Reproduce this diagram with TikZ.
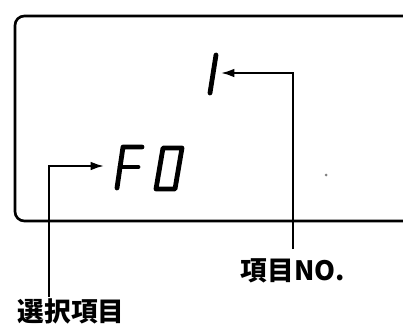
\documentclass[tikz,border=0pt]{standalone}
\usepackage{fontspec}
\newfontfamily\cjk{Noto Sans CJK JP}
\usetikzlibrary{arrows.meta,calc}

\begin{document}
\begin{tikzpicture}[x=0.75pt,y=-0.75pt,
        seg/.style={line width=3.6pt, line cap=round, line join=round},
        callout/.style={line width=1.5pt, -{Latex[length=10pt,width=6.5pt]}},
        tag/.style={font=\cjk\bfseries\fontsize{20}{20}\selectfont, inner sep=1pt}]
    \useasboundingbox (0,0) rectangle (403,325);
    % display window
    \draw[line width=2pt, rounded corners=7pt] (410,16) -- (15,16) -- (15,221) -- (410,221);
    % segment digits
    \draw[seg] (210,93) -- (216,55);
    \draw[seg] (117,188) -- (123,147) -- (142,147);
    \draw[seg] (120,167) -- (138,167);
    \draw[seg] (156,189) -- (163,148) -- (182,148) -- (175,189) -- cycle;
    \fill[gray] (326,175) circle (1.5);
    \coordinate (one) at (221,73);
    \coordinate (fzero) at (104,166);
    \node[tag] (itemno) at (293,271) {項目NO.};
    \node[tag] (select) at (71,311) {選択項目};
    \draw[callout] ([yshift=6pt]itemno.north) |- (one);
    \draw[callout] ($(select.north west)+(33,0)$) |- (fzero);
\end{tikzpicture}
\end{document}
